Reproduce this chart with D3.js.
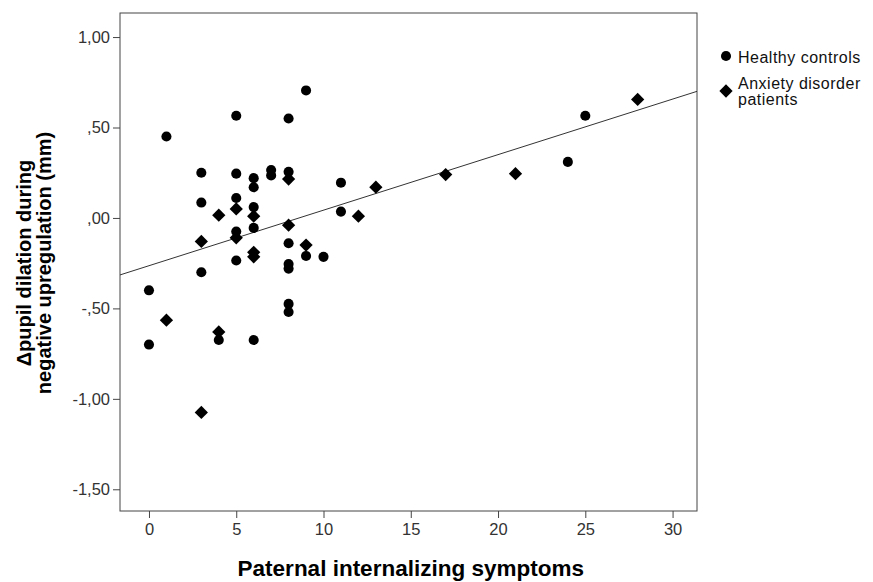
<!DOCTYPE html>
<html>
<head>
<meta charset="utf-8">
<script src="https://cdn.jsdelivr.net/npm/d3@7/dist/d3.min.js"></script>
<style>
  body { margin: 0; background: #fff; }
  text { font-family: "Liberation Sans", Arial, sans-serif; }
</style>
</head>
<body>
<svg id="chart" width="873" height="582"></svg>
<script>
// data
var controlsX = [0, 0, 1, 3, 3, 3, 4, 5, 5, 5, 5, 5, 6, 6, 6, 6, 6, 7, 7, 8, 8, 8, 8, 8, 8, 8, 9, 9, 10, 11, 11, 24, 25];
var controlsY = [-0.40, -0.70, 0.45, 0.25, 0.085, -0.30, -0.675, 0.565, 0.245, 0.11, -0.075, -0.235,
  0.22, 0.17, 0.06, -0.055, -0.675, 0.265, 0.235, 0.55, 0.255, -0.14, -0.255, -0.28, -0.475, -0.52,
  0.705, -0.21, -0.215, 0.195, 0.035, 0.31, 0.565];
var patientsX = [1, 3, 3, 4, 4, 5, 5, 6, 6, 6, 8, 8, 9, 12, 13, 17, 21, 28];
var patientsY = [-0.565, -0.13, -1.075, 0.015, -0.63, 0.05, -0.11, 0.01, -0.19, -0.215,
  0.215, -0.04, -0.15, 0.01, 0.17, 0.24, 0.245, 0.655];
var fitIntercept = -0.264;
var fitSlope = 0.0307;
var xTicks = [0, 5, 10, 15, 20, 25, 30];
var yTicks = [1, 0.5, 0, -0.5, -1, -1.5];
var yTickLabels = ['1,00', ',50', ',00', '-,50', '-1,00', '-1,50'];
var legendLabels = [['Healthy controls'], ['Anxiety disorder', 'patients']];

var svg = d3.select('#chart');
var plotLeft = 120, plotRight = 697, plotTop = 13, plotBottom = 511;
var xMin = -1.66, xMax = 31.4;

var x = d3.scaleLinear().domain([xMin, xMax]).range([plotLeft, plotRight]);
var y = d3.scaleLinear().domain([1.133, -1.62]).range([plotTop, plotBottom]);

// frame
svg.append('rect')
  .attr('x', plotLeft).attr('y', plotTop)
  .attr('width', plotRight - plotLeft).attr('height', plotBottom - plotTop)
  .attr('fill', 'none').attr('stroke', '#444').attr('stroke-width', 1);

// axes
var xAxis = svg.append('g')
  .attr('transform', 'translate(0,' + plotBottom + ')')
  .call(d3.axisBottom(x).tickValues(xTicks).tickSize(7).tickPadding(5));
var yAxis = svg.append('g')
  .attr('transform', 'translate(' + plotLeft + ',0)')
  .call(d3.axisLeft(y).tickValues(yTicks).tickSize(7).tickPadding(3)
    .tickFormat(function (d, i) { return yTickLabels[i]; }));
[xAxis, yAxis].forEach(function (a) {
  a.select('.domain').remove();
  a.selectAll('line').attr('stroke', '#444');
  a.selectAll('text').attr('fill', '#333').style('font-size', '16.5px');
});

// fit line
svg.append('clipPath').attr('id', 'plotclip')
  .append('rect').attr('x', plotLeft).attr('y', plotTop)
  .attr('width', plotRight - plotLeft).attr('height', plotBottom - plotTop);
svg.append('line')
  .attr('clip-path', 'url(#plotclip)')
  .attr('x1', x(xMin)).attr('y1', y(fitIntercept + fitSlope * xMin))
  .attr('x2', x(xMax)).attr('y2', y(fitIntercept + fitSlope * xMax))
  .attr('stroke', '#333').attr('stroke-width', 1);

var circleSym = d3.symbol().type(d3.symbolCircle).size(80);
var diamondSym = d3.symbol().type(d3.symbolSquare).size(88);

svg.append('g').selectAll('path')
  .data(controlsX.map(function (d, i) { return [d, controlsY[i]]; }))
  .enter().append('path')
  .attr('d', circleSym)
  .attr('transform', function (d) { return 'translate(' + x(d[0]) + ',' + y(d[1]) + ')'; })
  .attr('fill', '#000');

svg.append('g').selectAll('path')
  .data(patientsX.map(function (d, i) { return [d, patientsY[i]]; }))
  .enter().append('path')
  .attr('d', diamondSym)
  .attr('transform', function (d) { return 'translate(' + x(d[0]) + ',' + y(d[1]) + ') rotate(45)'; })
  .attr('fill', '#000');

// legend
var legend = svg.append('g').attr('transform', 'translate(726,0)');
legend.append('path').attr('d', circleSym).attr('transform', 'translate(0,56)');
legend.append('path').attr('d', diamondSym).attr('transform', 'translate(0,91) rotate(45)');
var legTexts = legend.selectAll('text.leg')
  .data(legendLabels).enter().append('text')
  .attr('class', 'leg')
  .attr('y', function (d, i) { return i === 0 ? 63 : 89; })
  .attr('fill', '#111').style('font-size', '16px').style('letter-spacing', '0.5px');
legTexts.selectAll('tspan').data(function (d) { return d; }).enter().append('tspan')
  .attr('x', 12).attr('dy', function (d, i) { return i === 0 ? 0 : 16; })
  .text(function (d) { return d; });

// axis titles
svg.append('text')
  .attr('x', (x(0) + x(30)) / 2).attr('y', 576)
  .attr('text-anchor', 'middle')
  .style('font-size', '22.5px').style('font-weight', 'bold')
  .text('Paternal internalizing symptoms');

var yt = svg.append('text')
  .attr('transform', 'translate(0,263) rotate(-90)')
  .attr('text-anchor', 'middle')
  .style('font-size', '20px').style('font-weight', 'bold');
yt.append('tspan').attr('x', 0).attr('y', 31).text('Δpupil dilation during');
yt.append('tspan').attr('x', 0).attr('y', 51).text('negative upregulation (mm)');
</script>
</body>
</html>
